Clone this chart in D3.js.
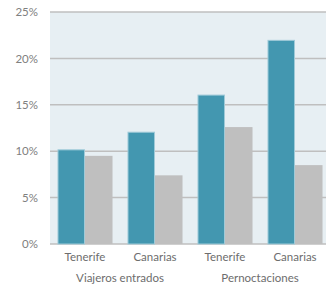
<!DOCTYPE html>
<html>
  <head>
    <script src="https://d3js.org/d3.v7.min.js"></script>
    <style>
      body { margin: 0; background: #fff; }
      text { font-family: Lato, "Open Sans", sans-serif; }
    </style>
  </head>
  <body>
    <div id="chart"></div>
    <script>
      // data
      const categories = ["Tenerife", "Canarias", "Tenerife", "Canarias"];
      const groups = [
        { label: "Viajeros entrados", from: 0, to: 1 },
        { label: "Pernoctaciones", from: 2, to: 3 }
      ];
      const seriesA = [10.2, 12.1, 16.1, 22.0];
      const seriesB = [9.5, 7.4, 12.6, 8.5];
      const yTicks = [0, 5, 10, 15, 20, 25];

      const width = 326;
      const height = 287;
      const margin = { top: 12, right: 0, bottom: 43, left: 50 };

      const svg = d3.select("#chart")
        .append("svg")
        .attr("width", width)
        .attr("height", height);

      const x = d3.scaleBand()
        .domain(d3.range(categories.length))
        .range([margin.left, 330])
        .paddingInner(0.214)
        .paddingOuter(0.107);

      const xSub = d3.scaleBand()
        .domain(["a", "b"])
        .range([0, x.bandwidth()]);

      const y = d3.scaleLinear()
        .domain([0, 25])
        .range([height - margin.bottom, margin.top]);

      // plot background
      svg.append("rect")
        .attr("x", margin.left)
        .attr("y", y(25))
        .attr("width", width - margin.left)
        .attr("height", y(0) - y(25))
        .attr("fill", "#e7eff3");

      // grid lines
      svg.append("g")
        .selectAll("line")
        .data(yTicks)
        .enter()
        .append("line")
        .attr("x1", margin.left)
        .attr("x2", width)
        .attr("y1", d => y(d))
        .attr("y2", d => y(d))
        .attr("stroke", "#bfbfbf")
        .attr("stroke-width", 1.5);

      // y axis labels
      const yAxis = d3.axisLeft(y)
        .tickValues(yTicks)
        .tickFormat(d => d + "%")
        .tickSize(0)
        .tickPadding(12);

      svg.append("g")
        .attr("transform", "translate(" + margin.left + ",0)")
        .call(yAxis)
        .call(g => g.select(".domain").remove())
        .call(g => g.selectAll("text")
          .attr("fill", "#808080")
          .style("font-size", "11.5px")
          .style("font-family", "Lato, sans-serif"));

      // bars
      svg.append("g")
        .selectAll("rect")
        .data(seriesB)
        .enter()
        .append("rect")
        .attr("x", (d, i) => x(i) + xSub("b"))
        .attr("y", d => y(d))
        .attr("width", xSub.bandwidth())
        .attr("height", d => y(0) - y(d))
        .attr("fill", "#bfbfbf");

      svg.append("g")
        .selectAll("rect")
        .data(seriesA)
        .enter()
        .append("rect")
        .attr("x", (d, i) => x(i) + xSub("a") + 0.5)
        .attr("y", d => y(d) + 0.5)
        .attr("width", xSub.bandwidth() - 1)
        .attr("height", d => y(0) - y(d) - 0.5)
        .attr("fill", "#4397b0")
        .attr("stroke", "#9fcad8")
        .attr("stroke-width", 1);

      // category labels
      const xAxis = d3.axisBottom(x)
        .tickFormat(i => categories[i])
        .tickSize(0)
        .tickPadding(9);

      svg.append("g")
        .attr("transform", "translate(0," + y(0) + ")")
        .call(xAxis)
        .call(g => g.select(".domain").remove())
        .call(g => g.selectAll("text")
          .attr("fill", "#6d6d6d")
          .style("font-size", "11.5px")
          .style("font-family", "Lato, sans-serif"));

      // group labels
      svg.append("g")
        .selectAll("text")
        .data(groups)
        .enter()
        .append("text")
        .attr("x", d => (x(d.from) + x(d.to) + x.bandwidth()) / 2)
        .attr("y", y(0) + 38)
        .attr("text-anchor", "middle")
        .attr("fill", "#6d6d6d")
        .style("font-size", "11.5px")
        .text(d => d.label);
    </script>
  </body>
</html>
